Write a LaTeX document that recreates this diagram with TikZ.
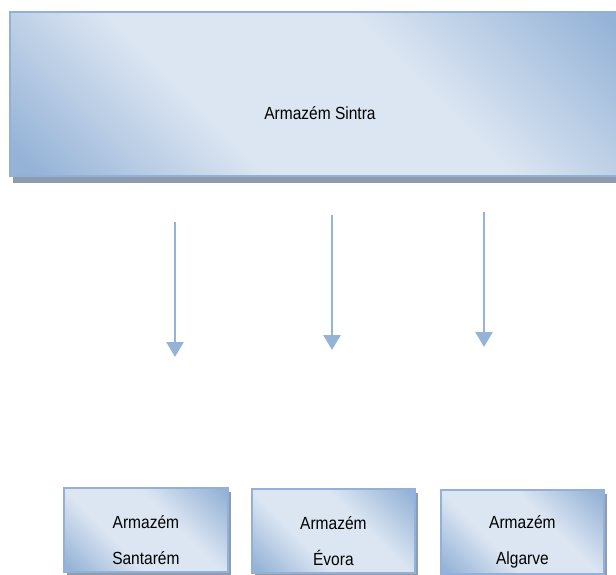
\documentclass[tikz,border=0pt]{standalone}
\usepackage{fontspec}
\setmainfont{Liberation Sans}
\usetikzlibrary{shadows,arrows.meta}
\definecolor{dk}{HTML}{95B3D7}
\definecolor{lt}{HTML}{DCE6F2}
\definecolor{edgeblue}{HTML}{93B1D8}
\definecolor{shadowgrey}{HTML}{8F9BAE}
\definecolor{arrowblue}{HTML}{95B3D7}
\pgfdeclarehorizontalshading{wordblue}{100bp}{color(0bp)=(dk); color(17bp)=(dk); color(38bp)=(lt); color(60bp)=(lt); color(83bp)=(dk); color(100bp)=(dk)}
\newcommand{\tallfont}[1]{\scalebox{0.97}[1.1]{#1}}
\tikzset{
  boxstyle/.style={draw=edgeblue, line width=1.8pt, shading=wordblue, shading angle=45,
    anchor=north west, inner sep=0pt,
    drop shadow={shadow xshift=3pt, shadow yshift=-4pt, fill=shadowgrey, opacity=1}},
  labelstyle/.style={font=\fontsize{16}{36}\selectfont, align=center, inner sep=0pt, text=black},
  flowarrow/.style={draw=arrowblue, line width=2.6pt, -{Triangle[width=17pt,length=15pt]}}
}
\begin{document}
\begin{tikzpicture}[x=1pt,y=-1pt]
\useasboundingbox (0,0) rectangle (616,575);
\node[boxstyle, minimum width=620pt, minimum height=164pt, drop shadow={shadow xshift=3pt, shadow yshift=-7pt, fill=shadowgrey, opacity=1}] (sintra) at (9,11) {};
\node[labelstyle] (sintratxt) at (320,113) {\tallfont{Armazém Sintra}};

\node[boxstyle, minimum width=164pt, minimum height=84pt] (santarem) at (63,487) {};
\node[boxstyle, minimum width=163pt, minimum height=84pt] (evora) at (251,488) {};
\node[boxstyle, minimum width=163pt, minimum height=84pt] (algarve) at (440,489) {};

\node[labelstyle] (santaremtxt) at (santarem.center) [yshift=-10pt] {\tallfont{Armazém}\\\tallfont{Santarém}};
\node[labelstyle] (evoratxt) at (evora.center) [yshift=-10pt] {\tallfont{Armazém}\\\tallfont{Évora}};
\node[labelstyle] (algarvetxt) at (algarve.center) [yshift=-10pt] {\tallfont{Armazém}\\\tallfont{Algarve}};

\coordinate (a1s) at (175,222);
\coordinate (a1e) at (175,357);
\coordinate (a2s) at (332,215);
\coordinate (a2e) at (332,350);
\coordinate (a3s) at (484,212);
\coordinate (a3e) at (484,347);
\draw[flowarrow] (a1s) -- (a1e);
\draw[flowarrow] (a2s) -- (a2e);
\draw[flowarrow] (a3s) -- (a3e);
\end{tikzpicture}
\end{document}
